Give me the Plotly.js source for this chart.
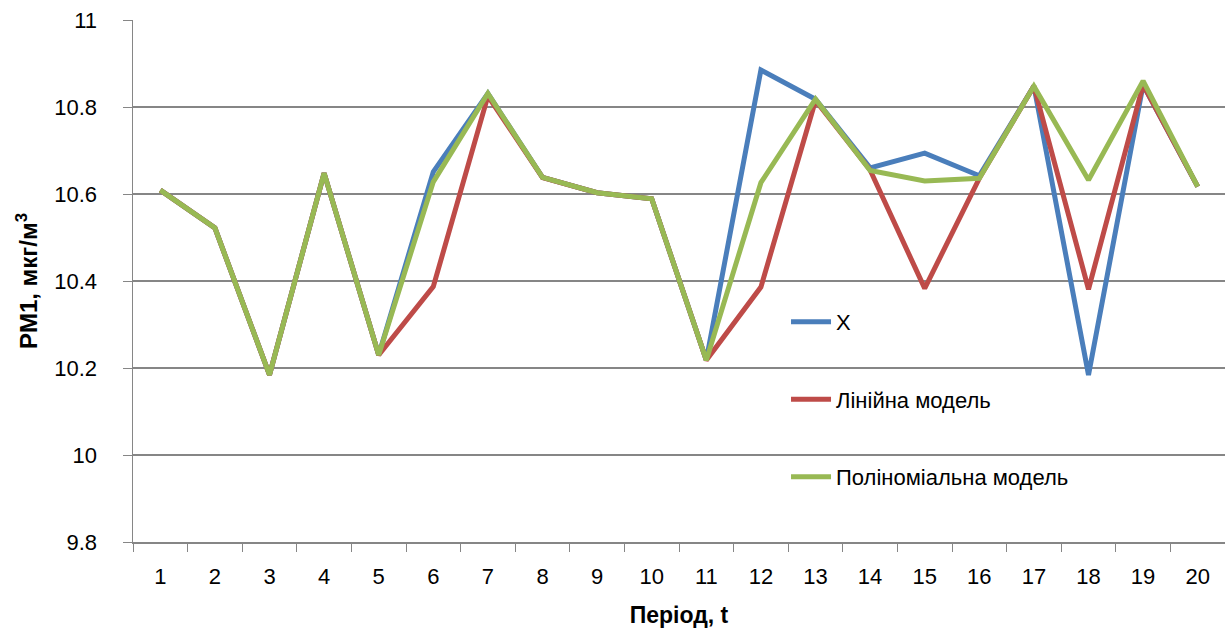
<!DOCTYPE html>
<html>
<head>
<meta charset="utf-8">
<script src="https://cdn.plot.ly/plotly-3.0.1.min.js"></script>
<style>
  html, body { margin: 0; padding: 0; background: #fff; }
  #chart { width: 1225px; height: 633px; }
</style>
</head>
<body>
<div id="chart"></div>
<script>
// Періоди спостереження
const periods = ['1','2','3','4','5','6','7','8','9','10','11','12','13','14','15','16','17','18','19','20'];

// Фактичні значення PM1
const actualX = [10.609, 10.522, 10.184, 10.648, 10.230, 10.651, 10.831, 10.638, 10.603, 10.589,
                 10.218, 10.885, 10.818, 10.660, 10.694, 10.642, 10.848, 10.184, 10.851, 10.617];

// Лінійна модель
const linearModel = [10.609, 10.522, 10.184, 10.648, 10.230, 10.387, 10.825, 10.638, 10.603, 10.589,
                     10.218, 10.386, 10.815, 10.655, 10.383, 10.636, 10.848, 10.381, 10.851, 10.617];

// Поліноміальна модель
const polyModel = [10.609, 10.522, 10.184, 10.648, 10.230, 10.628, 10.831, 10.638, 10.603, 10.589,
                   10.218, 10.626, 10.818, 10.654, 10.630, 10.636, 10.848, 10.632, 10.860, 10.617];

const seriesNames = ['X', 'Лінійна модель', 'Поліноміальна модель'];
const seriesColors = ['#4A7EBB', '#BE4B48', '#98B954'];
const seriesData = [actualX, linearModel, polyModel];

const FONT = 'Liberation Sans, Arial, sans-serif';

const traces = seriesData.map((vals, i) => ({
  type: 'scatter',
  mode: 'lines',
  x: periods,
  y: vals,
  name: seriesNames[i],
  legendgroup: 'g' + i,
  line: { color: seriesColors[i], width: 5, shape: 'linear' },
  hoverinfo: 'x+y+name'
}));

const layout = {
  width: 1225,
  height: 633,
  margin: { l: 133, r: 0, t: 20, b: 91 },
  paper_bgcolor: '#ffffff',
  plot_bgcolor: '#ffffff',
  font: { family: FONT, size: 22, color: '#000000' },
  showlegend: true,
  legend: {
    x: 0.598, y: 0.462, xanchor: 'left', yanchor: 'top',
    bgcolor: 'rgba(0,0,0,0)',
    font: { family: FONT, size: 22, color: '#000000' },
    tracegroupgap: 46,
    itemwidth: 40
  },
  xaxis: {
    type: 'category',
    range: [-0.5, 19.5],
    showgrid: false,
    showline: true,
    linecolor: '#868686',
    linewidth: 1.5,
    ticks: 'outside',
    tickson: 'boundaries',
    ticklen: 8,
    tickcolor: '#868686',
    ticklabelstandoff: 14,
    tickfont: { family: FONT, size: 22, color: '#000000' },
    title: { text: '<b>Період, t</b>', font: { family: FONT, size: 23, color: '#000000' }, standoff: 19 },
    zeroline: false,
    fixedrange: true
  },
  yaxis: {
    range: [9.8, 11],
    dtick: 0.2,
    tick0: 9.8,
    showgrid: true,
    gridcolor: '#868686',
    gridwidth: 1.5,
    showline: true,
    linecolor: '#868686',
    linewidth: 1.5,
    ticks: 'outside',
    ticklen: 9,
    tickcolor: '#868686',
    ticklabelstandoff: 21,
    tickfont: { family: FONT, size: 22, color: '#000000' },
    title: { text: '<b>PM1, мкг/м<sup>3</sup></b>', font: { family: FONT, size: 24, color: '#000000' }, standoff: 10 },
    zeroline: false,
    fixedrange: true
  }
};

Plotly.newPlot('chart', traces, layout, { displayModeBar: false, staticPlot: true });
</script>
</body>
</html>
